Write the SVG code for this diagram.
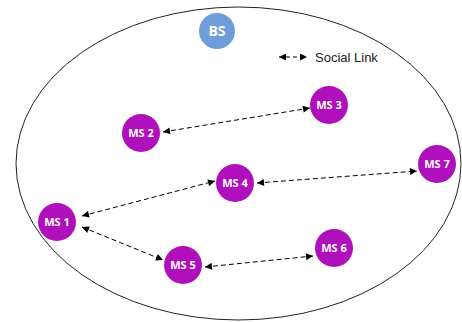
<svg xmlns="http://www.w3.org/2000/svg" width="462" height="322" viewBox="0 0 462 322">
<style>
.ms{fill:#b010bb}
.lbl{font-family:"Open Sans","Noto Sans",sans-serif;font-weight:bold;font-size:11px;fill:#fff;text-anchor:middle}
.lnk{stroke:#000;stroke-width:1;stroke-dasharray:5,3;fill:none;marker-start:url(#ah);marker-end:url(#ah)}
</style>
<defs>
<marker id="ah" viewBox="0 0 10 10" refX="10" refY="5" markerWidth="9" markerHeight="7" markerUnits="userSpaceOnUse" orient="auto-start-reverse">
<path d="M0,0 L10,5 L0,10 z" fill="#000"/>
</marker>
</defs>
<rect width="462" height="322" fill="#fff"/>
<ellipse cx="238.5" cy="163.5" rx="222.5" ry="156.5" fill="none" stroke="#222" stroke-width="1"/>
<g id="BS">
<circle cx="217" cy="31" r="18" fill="#6f9ddc"/>
<text x="217" y="36" class="lbl" style="font-size:14px">BS</text>
</g>
<g id="legend">
<line x1="279" y1="57" x2="307" y2="57" class="lnk" style="stroke-dasharray:4,3"/>
<text x="315" y="62" font-family="Liberation Sans,Arial,sans-serif" font-size="13" fill="#222">Social Link</text>
</g>
<g id="connectors">
<line x1="163" y1="132" x2="310" y2="108" class="lnk"/>
<line x1="82" y1="216" x2="215" y2="181" class="lnk"/>
<line x1="257" y1="183" x2="417" y2="171" class="lnk"/>
<line x1="82" y1="227" x2="163" y2="260" class="lnk"/>
<line x1="205" y1="267" x2="313" y2="256" class="lnk"/>
</g>
<g id="MS1"><circle cx="57" cy="222" r="19" class="ms"/><text x="57" y="226" class="lbl">MS 1</text></g>
<g id="MS2"><circle cx="141" cy="133" r="19" class="ms"/><text x="141" y="137" class="lbl">MS 2</text></g>
<g id="MS3"><circle cx="329" cy="105" r="19" class="ms"/><text x="329" y="109" class="lbl">MS 3</text></g>
<g id="MS4"><circle cx="235" cy="183" r="19" class="ms"/><text x="235" y="187" class="lbl">MS 4</text></g>
<g id="MS5"><circle cx="183" cy="265" r="19" class="ms"/><text x="183" y="269" class="lbl">MS 5</text></g>
<g id="MS6"><circle cx="334" cy="248" r="19" class="ms"/><text x="334" y="252" class="lbl">MS 6</text></g>
<g id="MS7"><circle cx="437" cy="164" r="19" class="ms"/><text x="437" y="168" class="lbl">MS 7</text></g>
</svg>
